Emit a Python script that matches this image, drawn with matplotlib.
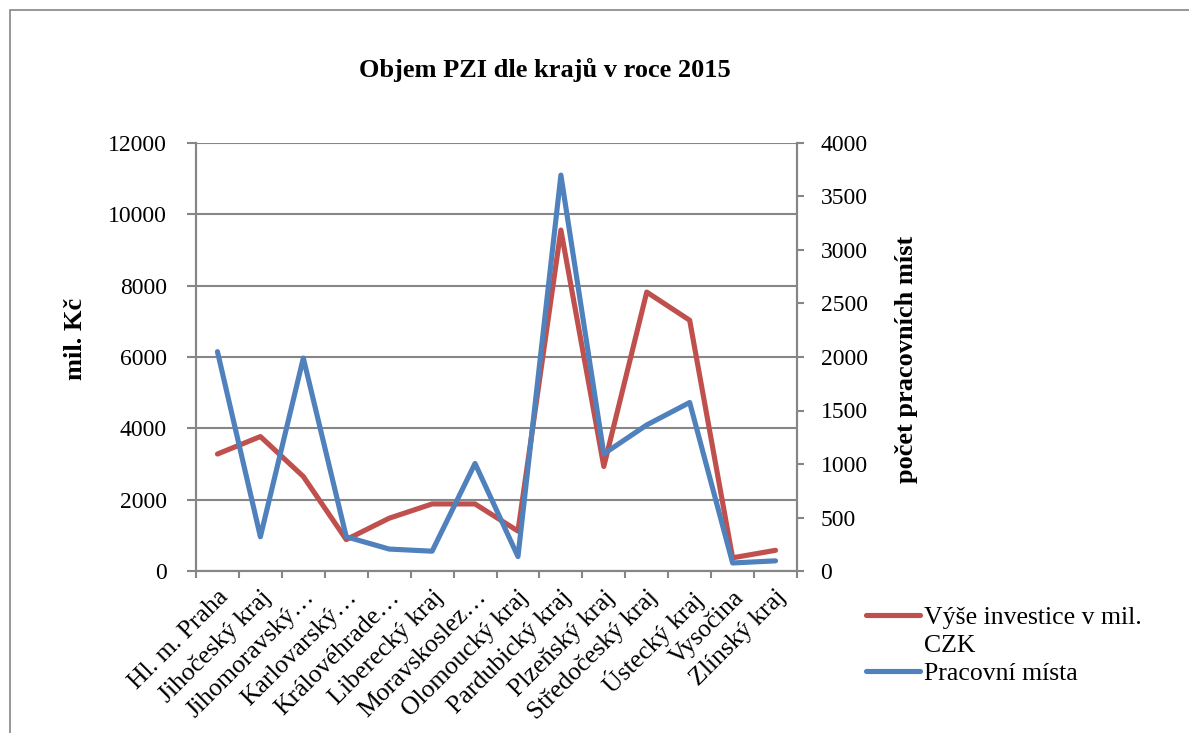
import matplotlib
matplotlib.use('Agg')
import matplotlib.pyplot as plt
from matplotlib.patches import Rectangle
from matplotlib.lines import Line2D

kraje = ['Hl. m. Praha', 'Jihočeský kraj', 'Jihomoravský…', 'Karlovarský…',
         'Královéhrade…', 'Liberecký kraj', 'Moravskoslez…', 'Olomoucký kraj',
         'Pardubický kraj', 'Plzeňský kraj', 'Středočeský kraj', 'Ústecký kraj',
         'Vysočina', 'Zlínský kraj']
investice = [3280, 3770, 2650, 880, 1480, 1880, 1880, 1120,
             9560, 2930, 7820, 7030, 370, 580]
mista = [2050, 320, 1990, 320, 205, 185, 1005, 135,
         3700, 1095, 1365, 1575, 75, 95]

red = '#C0504D'
blue = '#4F81BD'
grey = '#868686'
plt.rcParams['font.family'] = ['Liberation Serif', 'DejaVu Serif']

fig = plt.figure(figsize=(11.89, 7.33), dpi=100)
# chart area border (runs off the right and bottom edge)
fig.patches.append(Rectangle((10 / 1189, -0.1), 1.2, 1 - 10 / 733 + 0.1,
                             transform=fig.transFigure, fill=False,
                             edgecolor=grey, linewidth=1.2))

ax = fig.add_axes([196 / 1189, 1 - 571 / 733, 601 / 1189, 428 / 733])
ax2 = ax.twinx()

x = [i + 0.5 for i in range(len(kraje))]
l1, = ax.plot(x, investice, color=red, linewidth=3.7, solid_capstyle='round')
l2, = ax2.plot(x, mista, color=blue, linewidth=3.7, solid_capstyle='round')

ax.set_xlim(0, 14)
ax.set_ylim(0, 12000)
ax2.set_ylim(0, 4000)
ax.set_yticks(range(0, 12001, 2000))
ax2.set_yticks(range(0, 4001, 500))
ax.set_xticks(range(15))
ax.set_xticklabels([])
ax.set_xticks(x, minor=True)
ax.set_xticklabels(kraje, minor=True, rotation=45, ha='right',
                   rotation_mode='anchor', fontsize=18.5)
ax.tick_params(axis='x', which='minor', length=0, pad=11)
ax.tick_params(axis='x', which='major', length=5, width=1.5, color=grey)

ax.grid(axis='y', color=grey, linewidth=1.5)
ax.set_axisbelow(True)
for a in (ax, ax2):
    for s in a.spines.values():
        s.set_color(grey)
        s.set_linewidth(1.5)
    a.spines['top'].set_visible(False)
ax.tick_params(axis='y', length=6.5, width=1.5, color=grey, labelsize=17, pad=14.4)
ax2.tick_params(axis='y', length=5, width=1.5, color=grey, labelsize=17, pad=12)

ax.set_ylabel('mil. Kč', fontsize=19, fontweight='bold')
ax.yaxis.set_label_coords((87 - 196) / 601, (571 - 339) / 428)
ax2.set_ylabel('počet pracovních míst', fontsize=19, fontweight='bold')
ax2.yaxis.set_label_coords((895 - 196) / 601, (571 - 359) / 428)

fig.text(545 / 1189, 1 - 70 / 733, 'Objem PZI dle krajů v roce 2015',
         ha='center', va='center', fontsize=19, fontweight='bold')

blank = Line2D([], [], color='none')
fig.legend(handles=[l1, blank, l2],
           labels=['Výše investice v mil.', 'CZK', 'Pracovní místa'],
           loc='upper left', bbox_to_anchor=(866 / 1189, 1 - 606 / 733),
           frameon=False, fontsize=18.5, handlelength=2.1, handletextpad=0.15,
           labelspacing=0.2, borderpad=0, borderaxespad=0)

fig.savefig('out.png', dpi=100)
